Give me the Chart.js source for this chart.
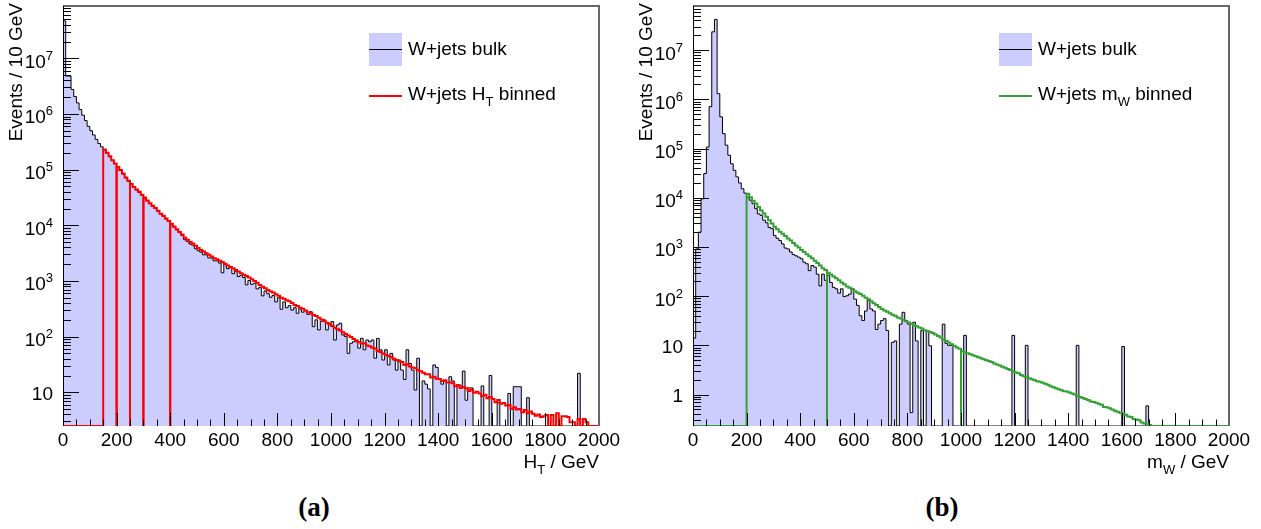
<!DOCTYPE html>
<html>
<head>
<meta charset="utf-8">
<script src="https://cdn.jsdelivr.net/npm/chart.js@4/dist/chart.umd.min.js"></script>
<style>
  body { margin: 0; background: #fff; }
  #page { position: relative; width: 1261px; height: 529px; overflow: hidden; }
  canvas { position: absolute; top: 0; }
  .caption { position: absolute; top: 494px; text-align: center; font: bold 27px "Liberation Serif", serif; line-height: 27px; color: #000; }
</style>
</head>
<body>
<div id="page">
  <canvas id="chartHT" width="630" height="480" style="left:0"></canvas>
  <canvas id="chartMW" width="631" height="480" style="left:630px"></canvas>
  <div class="caption" style="left:0;width:628px">(a)</div>
  <div class="caption" style="left:630px;width:624px">(b)</div>
</div>
<script>
// 10 GeV bins from 0 to 2000 GeV
const BIN = 10;
const X_MIN = 0, X_MAX = 2000;

const xTickValues = [0, 200, 400, 600, 800, 1000, 1200, 1400, 1600, 1800, 2000];
const xTickLabels = ["0", "200", "400", "600", "800", "1000", "1200", "1400", "1600", "1800", "2000"];

const htYTickValues = [10, 1e2, 1e3, 1e4, 1e5, 1e6, 1e7];
const htYTickLabels = ["10", "10^2", "10^3", "10^4", "10^5", "10^6", "10^7"];
const mwYTickValues = [1, 10, 1e2, 1e3, 1e4, 1e5, 1e6, 1e7];
const mwYTickLabels = ["1", "10", "10^2", "10^3", "10^4", "10^5", "10^6", "10^7"];

const htYRange = [2.48, 8.7e7];
const mwYRange = [0.23, 7.87e7];

// (a) H_T, W+jets bulk sample
const htBulk = [
  4.7e7, 4.8e6, 4.8e6, 2.75e6, 2.05e6, 1.58e6, 1.2e6, 9.5e5, 7.6e5, 6.0e5,
  5.0e5, 4.2e5, 3.5e5, 2.95e5, 2.57e5, 2.25e5, 1.97e5, 1.7e5, 1.46e5, 1.27e5,
  1.1e5, 9.6e4, 8.3e4, 7.1e4, 6.2e4, 5.4e4, 4.8e4, 4.3e4, 3.9e4, 3.5e4,
  3.1e4, 2.75e4, 2.45e4, 2.2e4, 2.0e4, 1.78e4, 1.6e4, 1.45e4, 1.3e4, 1.17e4,
  1.04e4, 9300, 8300, 7400, 6600, 5500, 5100, 4600, 4400, 3800,
  3500, 3300, 2950, 2950, 2600, 2570, 2300, 2300, 2100, 1400,
  2000, 1660, 1740, 1350, 1500, 1200, 1260, 1150, 850, 1020,
  870, 910, 720, 760, 540, 660, 590, 510, 550, 420,
  500, 310, 420, 330, 360, 300, 330, 263, 316, 275,
  295, 250, 280, 151, 200, 132, 190, 200, 132, 174,
  186, 87, 162, 174, 107, 100, 50, 76, 81, 81,
  62, 93, 58, 87, 81, 87, 41, 93, 58, 38,
  58, 31, 50, 38, 25, 38, 25, 17, 58, 33,
  25, 11, 41, 0, 16, 14, 11.5, 0, 31, 28,
  17, 14, 16, 0, 19, 16, 0, 13, 13, 24,
  7.2, 12, 12, 0, 0, 0, 13, 0, 0, 20,
  0, 0, 6.5, 0, 0, 0, 9.5, 0, 12.6, 12.6,
  12.6, 0, 0, 8, 0, 0, 0, 0, 0, 0,
  0, 0, 0, 0, 0, 0, 0, 0, 0, 0,
  0, 0, 22, 0, 0, 0, 0, 0, 0, 0
];

// (a) H_T, W+jets H_T binned samples (summed)
const htBinned = [
  0, 0, 0, 0, 0, 0, 0, 0, 0, 0,
  0, 0, 0, 0, 0, 2.3e5, 2.0e5, 1.74e5, 1.48e5, 1.29e5,
  1.12e5, 9.8e4, 8.5e4, 7.2e4, 6.3e4, 5.5e4, 4.9e4, 4.4e4, 4.0e4, 3.55e4,
  3.16e4, 2.8e4, 2.5e4, 2.24e4, 2.04e4, 1.82e4, 1.62e4, 1.48e4, 1.32e4, 1.2e4,
  1.07e4, 9500, 8500, 7600, 6800, 6000, 5500, 5000, 4700, 4300,
  3900, 3600, 3400, 3160, 2950, 2750, 2570, 2450, 2300, 2200,
  2040, 1900, 1780, 1700, 1580, 1480, 1380, 1290, 1230, 1150,
  1070, 1000, 930, 850, 790, 740, 690, 650, 620, 575,
  540, 500, 480, 450, 430, 400, 370, 355, 330, 316,
  295, 275, 263, 245, 234, 219, 204, 190, 178, 166,
  155, 145, 135, 129, 120, 112, 105, 98, 91, 85,
  79, 75, 76, 69, 67, 63, 61, 55, 53, 50,
  47, 45, 43, 40, 38, 36, 35, 31, 32, 29,
  28, 27, 25, 24, 22.4, 21, 21, 18.5, 19, 17.5,
  17.4, 16, 16.5, 15, 15.2, 14.5, 12.8, 13.5, 12, 12.4,
  11.8, 10.5, 11.2, 9.8, 10.2, 9.5, 8.6, 9.0, 7.8, 8.2,
  7.6, 6.6, 7.3, 6.2, 6.4, 5.8, 5.9, 5.0, 5.4, 4.9,
  5.0, 4.4, 4.8, 4.2, 4.5, 4.1, 3.8, 4.0, 3.6, 3.7,
  3.9, 0, 3.9, 0, 4.2, 0, 3.7, 3.7, 3.6, 2.9,
  2.9, 0, 3.3, 0, 3.3, 2.9, 0, 0, 0, 0
];
const htSliceEdges = [150, 200, 250, 300, 400, 2000];

// (b) m_W, W+jets bulk sample
const mwBulk = [
  14, 910, 2000, 9500, 3.1e4, 1.07e5, 7.1e5, 2.35e7, 4.2e7, 1.3e6,
  4.4e5, 2.0e5, 1.17e5, 7.3e4, 4.9e4, 3.6e4, 2.65e4, 2.0e4, 1.52e4, 1.24e4,
  1.02e4, 8900, 7600, 6000, 4700, 4400, 3500, 3100, 2500, 2350,
  1700, 1500, 1350, 1150, 950, 910, 790, 700, 660, 620,
  575, 490, 455, 330, 420, 390, 280, 162, 280, 210,
  263, 190, 151, 141, 115, 141, 98, 102, 110, 141,
  87, 65, 40, 32, 50, 81, 55, 50, 21, 27,
  32, 35, 20, 0, 11.5, 12.3, 0, 27, 47, 32,
  27, 0.43, 29.5, 12.3, 0, 20, 0, 20, 9.8, 0,
  0, 0, 0, 27, 11, 10, 10, 0, 0, 0,
  0, 16, 0, 0, 0, 0, 0, 0, 0, 0,
  0, 0, 0, 0, 0, 0, 0, 0, 0, 16,
  0, 0, 0, 0, 10, 0, 0, 0, 0, 0,
  0, 0, 0, 0, 0, 0, 0, 0, 0, 0,
  0, 0, 0, 10, 0, 0, 0, 0, 0, 0,
  0, 0, 0, 0, 0, 0, 0, 0, 0, 0,
  9.5, 0, 0, 0, 0, 0, 0, 0, 0, 0.59,
  0, 0, 0, 0, 0, 0, 0, 0, 0, 0,
  0, 0, 0, 0, 0, 0, 0, 0, 0, 0,
  0, 0, 0, 0, 0, 0, 0, 0, 0, 0
];

// (b) m_W, W+jets m_W binned samples (summed)
const mwBinned = [
  0, 0, 0, 0, 0, 0, 0, 0, 0, 0,
  0, 0, 0, 0, 0, 0, 0, 0, 0, 0,
  1.2e4, 1.02e4, 8700, 7600, 6500, 5500, 4800, 4100, 3500, 3000,
  2570, 2300, 2040, 1860, 1660, 1480, 1350, 1200, 1070, 980,
  870, 790, 710, 650, 590, 525, 470, 420, 370, 340,
  300, 275, 250, 230, 210, 190, 174, 158, 148, 138,
  126, 117, 110, 102, 93, 87, 79, 72, 66, 60,
  55, 51, 48, 45, 42, 40, 37, 35, 33, 31,
  29, 27.5, 25.7, 24.5, 23, 21.9, 20.4, 19.5, 18.6, 17.8,
  16.6, 15.5, 14.5, 13.2, 12.3, 11.5, 10.5, 9.8, 9.1, 8.5,
  7.6, 7.2, 6.9, 6.6, 6.3, 6.0, 5.75, 5.5, 5.25, 5.0,
  4.8, 4.6, 4.3, 4.1, 3.9, 3.7, 3.5, 3.3, 3.16, 2.95,
  2.8, 2.7, 2.5, 2.35, 2.24, 2.14, 2.04, 1.95, 1.86, 1.82,
  1.74, 1.66, 1.58, 1.48, 1.41, 1.35, 1.29, 1.23, 1.17, 1.15,
  1.10, 1.05, 1.0, 0.93, 0.89, 0.85, 0.81, 0.78, 0.72, 0.71,
  0.68, 0.65, 0.62, 0.56, 0.55, 0.525, 0.50, 0.47, 0.45, 0.43,
  0.41, 0.39, 0.36, 0.35, 0.32, 0.31, 0.30, 0.27, 0.26, 0.25,
  0.24, 0, 0, 0, 0, 0, 0, 0, 0, 0,
  0, 0, 0, 0, 0, 0, 0, 0, 0, 0,
  0, 0, 0, 0, 0, 0, 0, 0, 0, 0
];
const mwSliceEdges = [200, 500, 1000, 2000];

const FONT = '"Liberation Sans", Arial, sans-serif';
const BULK_FILL = "#ccccff";

// Histogram outline for bins in [from, to): starts and ends on the axis floor,
// empty bins sit on the floor like ROOT draws them.
function outline(values, from, to, floor) {
    let pts = [{x: from, y: floor}];
    for (let i = from / BIN; i < to / BIN; i++) {
        pts.push({x: i * BIN, y: values[i] > 0 ? values[i] : floor});
    }
    pts.push({x: to, y: floor});
    return pts;
}

// Draws "main_sub rest" with a lowered small subscript.
function drawSubText(ctx, parts, x, y, size, align) {
    const [main, sub, rest] = parts;
    const big = size + "px " + FONT;
    const small = Math.round(size * 0.66) + "px " + FONT;
    ctx.font = big;
    const w1 = ctx.measureText(main).width;
    const w3 = rest ? ctx.measureText(rest).width : 0;
    ctx.font = small;
    const w2 = sub ? ctx.measureText(sub).width : 0;
    let start = align === "right" ? x - (w1 + w2 + w3) : x;
    ctx.textAlign = "left";
    ctx.font = big;
    ctx.fillText(main, start, y);
    if (sub) {
        ctx.font = small;
        ctx.fillText(sub, start + w1, y + 6);
    }
    if (rest) {
        ctx.font = big;
        ctx.fillText(rest, start + w1 + w2, y);
    }
}

const rootDecor = {
    id: "rootDecor",
    afterDatasetsDraw(chart, args, o) {
        const ctx = chart.ctx;
        const a = chart.chartArea;
        const xs = chart.scales.x;
        const ys = chart.scales.y;
        ctx.save();

        // frame (top and right)
        ctx.strokeStyle = "#666";
        ctx.lineWidth = 2;
        ctx.beginPath();
        ctx.moveTo(a.left, a.top);
        ctx.lineTo(a.right, a.top);
        ctx.lineTo(a.right, a.bottom);
        ctx.stroke();

        // y axis line and inward ticks
        ctx.strokeStyle = "#000";
        ctx.lineWidth = 1;
        ctx.beginPath();
        ctx.moveTo(a.left + 0.5, a.top);
        ctx.lineTo(a.left + 0.5, a.bottom);
        const lo = Math.floor(Math.log10(ys.min));
        const hi = Math.ceil(Math.log10(ys.max));
        for (let d = lo; d <= hi; d++) {
            for (let m = 1; m < 10; m++) {
                const v = m * Math.pow(10, d);
                if (v < ys.min || v > ys.max) continue;
                const py = Math.round(ys.getPixelForValue(v)) + 0.5;
                ctx.moveTo(a.left, py);
                ctx.lineTo(a.left + (m === 1 ? 16 : 8), py);
            }
        }
        // x ticks, major every 200, minor every 50
        for (let v = X_MIN + 50; v < X_MAX; v += 50) {
            const px = Math.round(xs.getPixelForValue(v)) + 0.5;
            ctx.moveTo(px, a.bottom);
            ctx.lineTo(px, a.bottom - (v % 200 === 0 ? 13 : 6.5));
        }
        ctx.stroke();

        // tick labels
        ctx.fillStyle = "#000";
        ctx.textBaseline = "alphabetic";
        ctx.font = "19px " + FONT;
        ctx.textAlign = "center";
        xTickValues.forEach((v, i) => {
            ctx.fillText(xTickLabels[i], xs.getPixelForValue(v), a.bottom + 19.5);
        });
        o.yTicks.forEach((v, i) => {
            const py = ys.getPixelForValue(v);
            const right = a.left - 10;
            const [base, exp] = o.yLabels[i].split("^");
            ctx.textAlign = "right";
            if (!exp) {
                ctx.font = "19px " + FONT;
                ctx.fillText(base, right, py + 7.5);
            } else {
                ctx.font = "13px " + FONT;
                const w = ctx.measureText(exp).width;
                ctx.fillText(exp, right, py + 1.5);
                ctx.font = "19px " + FONT;
                ctx.fillText(base, right - w, py + 9.5);
            }
        });

        // axis titles
        drawSubText(ctx, o.xTitle, a.right, 468, 19, "right");
        ctx.save();
        ctx.translate(22, 3);
        ctx.rotate(-Math.PI / 2);
        ctx.textAlign = "right";
        ctx.font = "19px " + FONT;
        ctx.fillText(o.yTitle, 0, 0);
        ctx.restore();

        // legend
        ctx.fillStyle = BULK_FILL;
        ctx.fillRect(369, 33, 33, 33);
        ctx.strokeStyle = "#000";
        ctx.lineWidth = 1;
        ctx.beginPath();
        ctx.moveTo(369, 49.5);
        ctx.lineTo(402, 49.5);
        ctx.stroke();
        ctx.strokeStyle = o.binnedColor;
        ctx.lineWidth = 2;
        ctx.beginPath();
        ctx.moveTo(369, 96);
        ctx.lineTo(402, 96);
        ctx.stroke();
        ctx.fillStyle = "#000";
        ctx.font = "19px " + FONT;
        ctx.textAlign = "left";
        ctx.fillText("W+jets bulk", 408, 55);
        drawSubText(ctx, o.binnedLabel, 408, 100, 19, "left");

        ctx.restore();
    }
};

function makeChart(id, bulk, binned, edges, yRange, color, decor) {
    const floor = yRange[0];
    let datasets = [{
        data: outline(bulk, X_MIN, X_MAX, floor),
        borderColor: "#000",
        borderWidth: 1,
        backgroundColor: BULK_FILL,
        fill: "start",
        stepped: "before",
        order: 2
    }];
    // each binned slice is its own histogram, so it rises from the floor at its edges
    for (let i = 0; i < edges.length - 1; i++) {
        datasets.push({
            data: outline(binned, i === 0 ? X_MIN : edges[i], edges[i + 1], floor),
            borderColor: color,
            borderWidth: 2,
            fill: false,
            stepped: "before",
            order: 1
        });
    }
    return new Chart(document.getElementById(id), {
        type: "line",
        data: {datasets: datasets},
        options: {
            responsive: false,
            animation: false,
            layout: {padding: {left: 63, right: decor.padRight, top: 6, bottom: 54}},
            elements: {point: {radius: 0}, line: {tension: 0}},
            scales: {
                x: {type: "linear", min: X_MIN, max: X_MAX, display: false},
                y: {type: "logarithmic", min: yRange[0], max: yRange[1], display: false}
            },
            plugins: {
                legend: {display: false},
                tooltip: {enabled: false},
                rootDecor: decor
            }
        },
        plugins: [rootDecor]
    });
}

makeChart("chartHT", htBulk, htBinned, htSliceEdges, htYRange, "#ff0000", {
    padRight: 31,
    yTicks: htYTickValues,
    yLabels: htYTickLabels,
    xTitle: ["H", "T", " / GeV"],
    yTitle: "Events / 10 GeV",
    binnedColor: "#ff0000",
    binnedLabel: ["W+jets H", "T", " binned"]
});

makeChart("chartMW", mwBulk, mwBinned, mwSliceEdges, mwYRange, "#33a033", {
    padRight: 32,
    yTicks: mwYTickValues,
    yLabels: mwYTickLabels,
    xTitle: ["m", "W", " / GeV"],
    yTitle: "Events / 10 GeV",
    binnedColor: "#33a033",
    binnedLabel: ["W+jets m", "W", " binned"]
});
</script>
</body>
</html>
